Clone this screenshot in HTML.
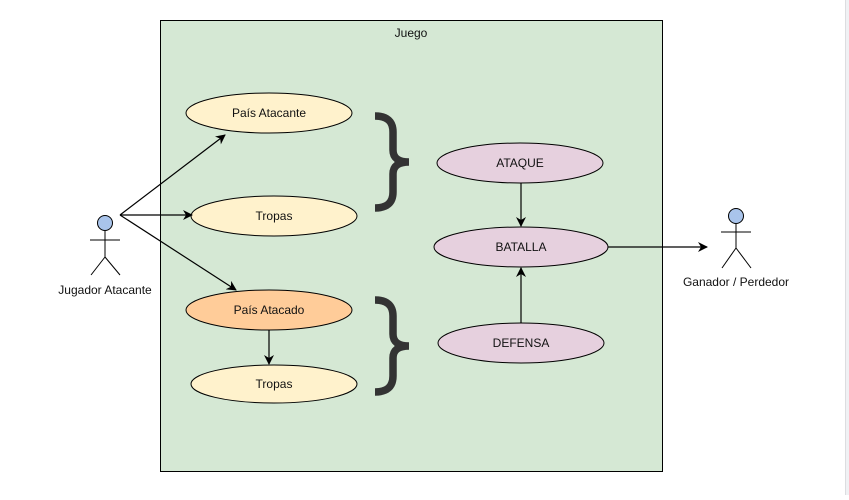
<!DOCTYPE html>
<html><head><style>
body{margin:0;background:#fff;}
svg text{font-family:"Liberation Sans",Arial,sans-serif;font-size:12px;fill:#111;}
</style></head><body>
<svg width="849" height="495" xmlns="http://www.w3.org/2000/svg">
<defs><marker id="a" markerWidth="10" markerHeight="10" refX="9" refY="5" orient="auto" markerUnits="userSpaceOnUse"><path d="M0,0 L10,5 L0,10 L3,5 Z" fill="#000"/></marker></defs>
<rect x="845" y="0" width="4" height="495" fill="#f0f1f4"/>
<line x1="845.5" y1="0" x2="845.5" y2="495" stroke="#dcdde0"/>
<rect x="160.5" y="20.5" width="502" height="451" fill="#d5e8d4" stroke="#000"/>
<text x="411" y="37" text-anchor="middle">Juego</text>
<g stroke="#000" stroke-width="1">
<ellipse cx="269" cy="113" rx="83" ry="20" fill="#fff2cc"/>
<ellipse cx="274" cy="216" rx="83" ry="20" fill="#fff2cc"/>
<ellipse cx="269" cy="310" rx="83" ry="20" fill="#ffcc99"/>
<ellipse cx="274" cy="384" rx="83" ry="19" fill="#fff2cc"/>
<ellipse cx="520" cy="163" rx="83" ry="20" fill="#e6d0de"/>
<ellipse cx="521" cy="247" rx="87" ry="20" fill="#e6d0de"/>
<ellipse cx="521" cy="343" rx="83" ry="20" fill="#e6d0de"/>
</g>
<text x="269" y="117" text-anchor="middle">País Atacante</text>
<text x="274" y="220" text-anchor="middle">Tropas</text>
<text x="269" y="314" text-anchor="middle">País Atacado</text>
<text x="274" y="388" text-anchor="middle">Tropas</text>
<text x="520" y="167" text-anchor="middle">ATAQUE</text>
<text x="521" y="251" text-anchor="middle">BATALLA</text>
<text x="521" y="347" text-anchor="middle">DEFENSA</text>
<g stroke="#000" stroke-width="1.2" fill="none" marker-end="url(#a)">
<line x1="120" y1="215" x2="225" y2="135"/>
<line x1="120" y1="215" x2="192" y2="215"/>
<line x1="120" y1="215" x2="236" y2="290"/>
<line x1="269" y1="330" x2="269" y2="364"/>
<line x1="521" y1="183" x2="521" y2="226"/>
<line x1="521" y1="323" x2="521" y2="268"/>
<line x1="608" y1="247" x2="707" y2="247"/>
</g>
<g stroke="#333" stroke-width="7.5" fill="none">
<path d="M375,116 Q393,116 393,132 L393,150 Q393,162 409,162 Q393,162 393,174 L393,192 Q393,208 375,208"/>
<path d="M375,300 Q393,300 393,316 L393,334 Q393,346 409,346 Q393,346 393,358 L393,376 Q393,392 375,392"/>
</g>
<g stroke="#000" stroke-width="1" fill="none">
<circle cx="105" cy="223" r="7.5" fill="#a9c4eb"/>
<line x1="105" y1="231" x2="105" y2="257"/><line x1="90" y1="240" x2="120" y2="240"/>
<line x1="105" y1="257" x2="91" y2="275"/><line x1="105" y1="257" x2="120" y2="275"/>
<circle cx="736" cy="216" r="7.5" fill="#a9c4eb"/>
<line x1="736" y1="224" x2="736" y2="248"/><line x1="721" y1="232" x2="751" y2="232"/>
<line x1="736" y1="248" x2="722" y2="268"/><line x1="736" y1="248" x2="751" y2="268"/>
</g>
<text x="105" y="294" text-anchor="middle">Jugador Atacante</text>
<text x="736" y="286" text-anchor="middle">Ganador / Perdedor</text>
</svg>
</body></html>
